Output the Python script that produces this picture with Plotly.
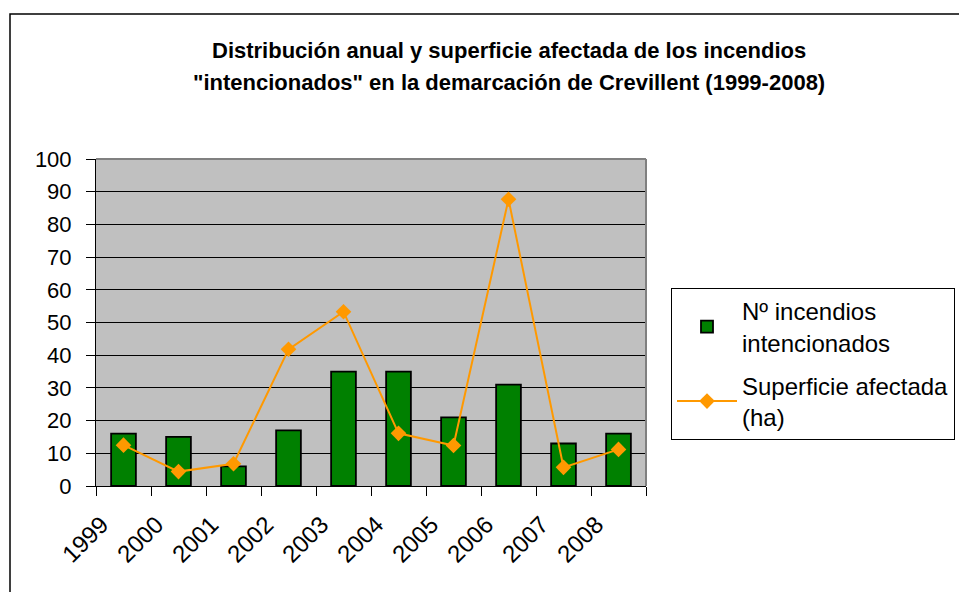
import plotly.graph_objects as go

years = ["1999", "2000", "2001", "2002", "2003", "2004", "2005", "2006", "2007", "2008"]
incendios = [16, 15, 6, 17, 35, 35, 21, 31, 13, 16]
superficie = [12.5, 4.4, 6.8, 41.8, 53.3, 16.1, 12.4, 87.7, 5.7, 11.2]
y_ticks = [0, 10, 20, 30, 40, 50, 60, 70, 80, 90, 100]

W, H = 959, 592
L, R, T, B = 96, 646, 159, 486

fig = go.Figure()
fig.add_trace(go.Bar(
    x=years, y=incendios, name="Nº incendios<br>intencionados", legendgroup="a",
    marker=dict(color="#008000", line=dict(color="black", width=1.8)),
))
fig.add_trace(go.Scatter(
    x=years, y=superficie, name="Superficie afectada<br>(ha)", mode="lines+markers",
    legendgroup="b",
    line=dict(color="#FF9900", width=2),
    marker=dict(symbol="diamond", size=12, color="#FF9900"),
))

def px_x(p):
    return (p - L) / (R - L)

def px_y(p):
    return (B - p) / (B - T)

title_font = dict(family="Liberation Sans, Arial, sans-serif", size=22)

fig.update_layout(
    width=W, height=H,
    margin=dict(l=L, r=W - R, t=T, b=H - B, autoexpand=False),
    paper_bgcolor="white", plot_bgcolor="#C0C0C0",
    font=dict(family="Liberation Sans, Arial, sans-serif", color="black", size=22),
    bargap=0.55,
    showlegend=True,
    legend=dict(
        x=px_x(671), y=px_y(288), xanchor="left", yanchor="top",
        bgcolor="white", bordercolor="black", borderwidth=1,
        font=dict(size=24), traceorder="grouped", tracegroupgap=9, itemwidth=60,
    ),
    xaxis=dict(
        type="category", range=[-0.5, 9.5], tickangle=-45, tickson="boundaries",
        ticks="outside", ticklen=9, tickcolor="black",
        showline=True, linecolor="black", linewidth=1,
        showgrid=False, tickfont=dict(size=24),
        ticklabelstandoff=14, ticklabelshift=-22,
    ),
    yaxis=dict(
        range=[0, 100], tickvals=y_ticks, ticks="outside", ticklen=9,
        tickcolor="black", showline=True, linecolor="black", linewidth=1,
        showgrid=True, gridcolor="black", gridwidth=1, zeroline=False,
        tickfont=dict(size=22), ticklabelstandoff=10,
    ),
    annotations=[
        dict(text="<b>Distribución anual y superficie afectada de los incendios</b>",
             xref="paper", yref="paper", x=px_x(509), y=px_y(36), xanchor="center", yanchor="top",
             showarrow=False, font=title_font),
        dict(text="<b>\"intencionados\" en la demarcación de Crevillent (1999-2008)</b>",
             xref="paper", yref="paper", x=px_x(509), y=px_y(68), xanchor="center", yanchor="top",
             showarrow=False, font=title_font),
    ],
    shapes=[
        dict(type="rect", xref="paper", yref="paper", x0=px_x(10), y0=px_y(600), x1=px_x(970), y1=px_y(14),
             line=dict(color="black", width=1.5), layer="below"),
        dict(type="line", xref="paper", yref="paper", x0=0, y0=1, x1=1, y1=1,
             line=dict(color="#808080", width=2)),
        dict(type="line", xref="paper", yref="paper", x0=1, y0=0, x1=1, y1=1,
             line=dict(color="#808080", width=2)),
    ],
)
fig.write_html("out.html", config={"displayModeBar": False},
               post_script="document.body.style.margin='0';document.body.style.overflow='hidden';")
